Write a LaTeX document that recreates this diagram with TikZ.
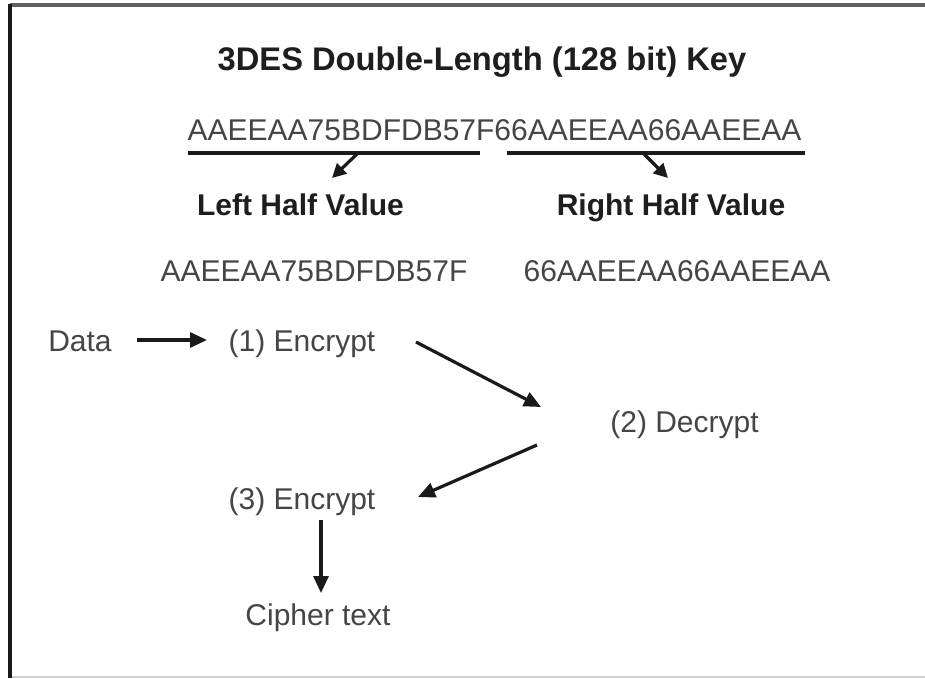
\documentclass[tikz,border=0pt]{standalone}
\usepackage{fontspec}
\setmainfont{Liberation Sans}
\usetikzlibrary{arrows.meta}
\definecolor{txt}{HTML}{454545}
\definecolor{hdr}{HTML}{1E1E1E}
\definecolor{ln}{HTML}{1A1A1A}
\begin{document}
\begin{tikzpicture}[x=1pt,y=-1pt,
  lbl/.style={anchor=base, inner sep=0pt, text=txt, font=\fontsize{30}{36}\selectfont},
  hd/.style={anchor=base, inner sep=0pt, text=hdr, font=\fontsize{30}{36}\selectfont\bfseries},
  ttl/.style={anchor=base, inner sep=0pt, text=hdr, font=\fontsize{32.7}{38}\selectfont\bfseries},
  arr/.style={draw=ln, line width=3.2pt, -{Triangle[length=17pt,width=15pt]}},
  karr/.style={draw=ln, line width=3.2pt, -{Triangle[length=14pt,width=14pt]}},
  keyline/.style={draw=ln, line width=3.4pt}]
\useasboundingbox (0,0) rectangle (925,679);
\fill[white] (0,0) rectangle (925,679);
% frame
\draw[line width=3.5pt, color=gray!75!black] (10,5) -- (925,5);
\draw[line width=2pt, color=gray!35] (10,677) -- (925,677);
\draw[line width=3.2pt, color=ln] (10,4) -- (10,678);
% texts
\node[ttl] (title) at (482,71) {3DES Double-Length (128 bit) Key};
\node[lbl] (key) at (494.5,141) {AAEEAA75BDFDB57F66AAEEAA66AAEEAA};
\node[hd] (lefth) at (300.5,215) {Left Half Value};
\node[hd] (righth) at (671,215) {Right Half Value};
\node[lbl] (leftv) at (314,281) {AAEEAA75BDFDB57F};
\node[lbl] (rightv) at (677,281) {66AAEEAA66AAEEAA};
\node[lbl] (data) at (80,351) {Data};
\node[lbl] (enc1) at (302,351) {(1) Encrypt};
\node[lbl] (dec) at (684.5,432) {(2) Decrypt};
\node[lbl] (enc3) at (302,509) {(3) Encrypt};
\node[lbl] (cipher) at (318,625) {Cipher text};
% key underlines
\coordinate (ll1) at (188,153);
\coordinate (ll2) at (480,153);
\coordinate (rl1) at (507,153);
\coordinate (rl2) at (805,153);
\draw[keyline] (ll1) -- (ll2);
\draw[keyline] (rl1) -- (rl2);
\coordinate (la1) at (357,154);
\coordinate (la2) at (332,178);
\coordinate (ra1) at (644,154);
\coordinate (ra2) at (668,178);
\draw[karr] (la1) -- (la2);
\draw[karr] (ra1) -- (ra2);
% flow arrows
\coordinate (d1) at (137,340);
\coordinate (d2) at (207,340);
\coordinate (e1) at (416,342);
\coordinate (e2) at (541,407);
\coordinate (f1) at (537,445);
\coordinate (f2) at (418,497);
\coordinate (g1) at (321,520);
\coordinate (g2) at (321,593);
\draw[arr] (d1) -- (d2);
\draw[arr] (e1) -- (e2);
\draw[arr] (f1) -- (f2);
\draw[arr] (g1) -- (g2);
\end{tikzpicture}
\end{document}
